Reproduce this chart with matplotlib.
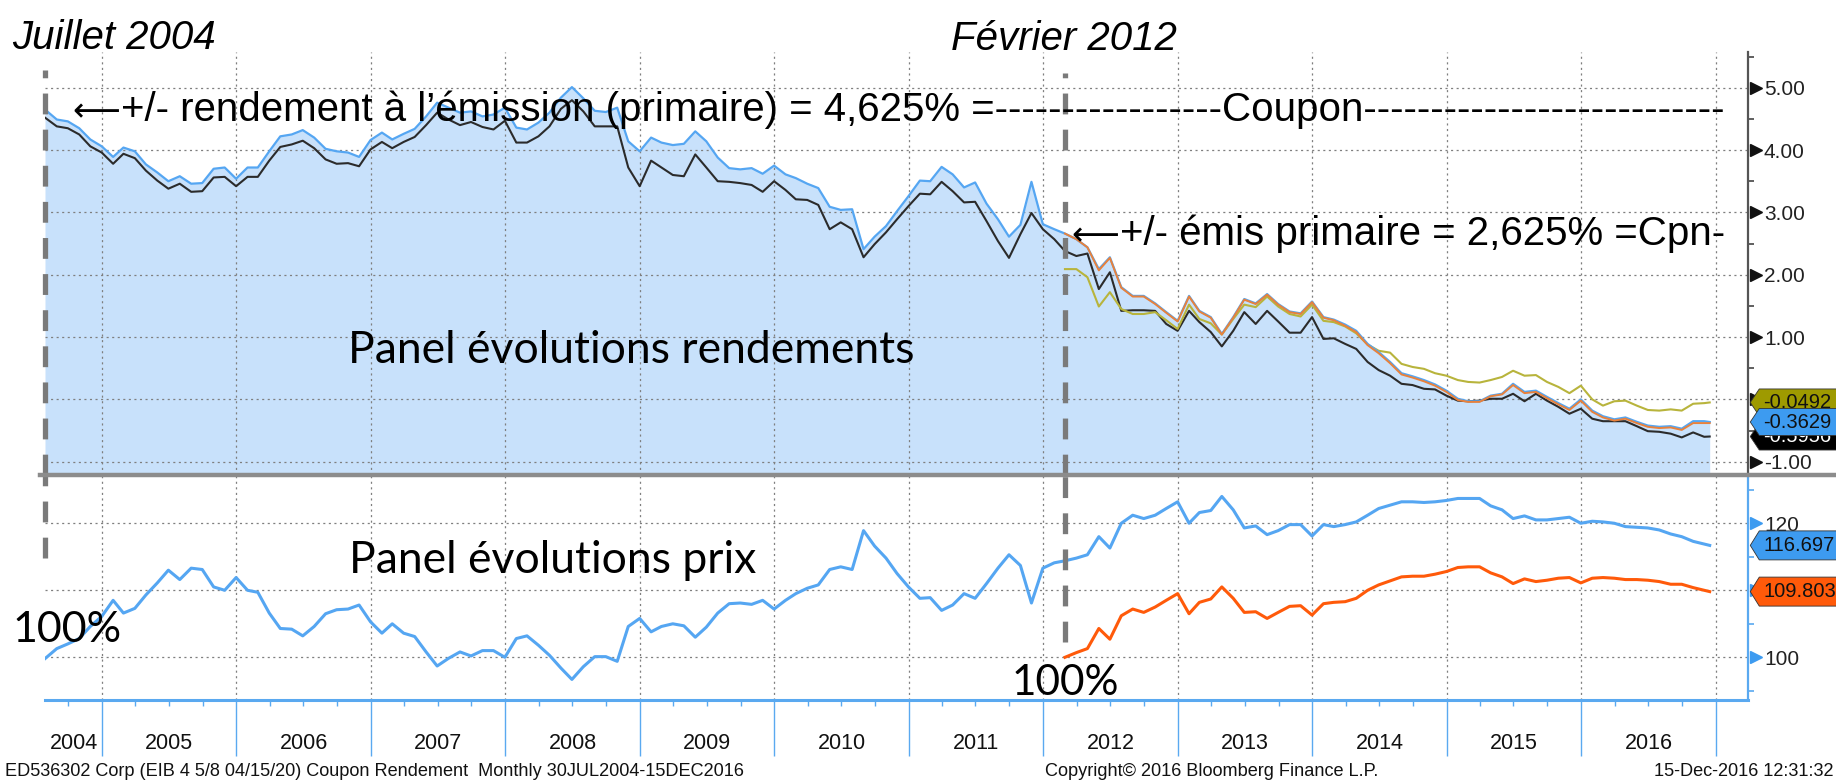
import numpy as np
import pandas as pd
import matplotlib
matplotlib.use("Agg")
import matplotlib.pyplot as plt
import matplotlib.dates as mdates
import matplotlib.transforms as mtrans
from matplotlib.path import Path
from matplotlib.lines import Line2D

# ---- data ----
dates = pd.date_range("2004-07-31", "2016-11-30", freq="ME").tolist()
dates[0] = pd.Timestamp("2004-07-30")
dates.append(pd.Timestamp("2016-12-15"))

# EIB 4 5/8 04/15/20 yield (blue, filled)
yld_eib = [4.65, 4.49, 4.46, 4.35, 4.17, 4.06,
           3.89, 4.04, 3.98, 3.77, 3.64, 3.50, 3.58, 3.46, 3.47, 3.70, 3.72, 3.54,
           3.72, 3.72, 3.98, 4.22, 4.25, 4.32, 4.20, 4.02, 3.98, 3.96, 3.89, 4.16,
           4.28, 4.17, 4.26, 4.34, 4.54, 4.76, 4.68, 4.60, 4.62, 4.54, 4.57, 4.68,
           4.36, 4.33, 4.44, 4.60, 4.84, 5.01, 4.83, 4.63, 4.61, 4.68, 4.14, 3.98,
           4.20, 4.12, 4.08, 4.10, 4.30, 4.14, 3.88, 3.71, 3.69, 3.71, 3.62, 3.75,
           3.61, 3.55, 3.46, 3.39, 3.09, 3.04, 3.05, 2.41, 2.61, 2.78, 3.02, 3.26,
           3.51, 3.50, 3.73, 3.61, 3.40, 3.48, 3.14, 2.89, 2.61, 2.80, 3.49, 2.81,
           2.73, 2.66, 2.57, 2.44, 2.09, 2.28, 1.80, 1.66, 1.66, 1.54, 1.40, 1.26,
           1.66, 1.42, 1.32, 1.05, 1.32, 1.61, 1.54, 1.69, 1.53, 1.41, 1.38, 1.57,
           1.32, 1.28, 1.20, 1.10, 0.89, 0.76, 0.60, 0.42, 0.37, 0.31, 0.24, 0.14,
           0.01, -0.03, -0.03, 0.06, 0.09, 0.25, 0.12, 0.14, 0.04, -0.06, -0.15, 0.00,
           -0.18, -0.27, -0.32, -0.29, -0.36, -0.42, -0.44, -0.43, -0.47, -0.35, -0.35, -0.3629]
# benchmark yield (black)
yld_bench = [4.52, 4.38, 4.35, 4.25, 4.06, 3.96,
             3.78, 3.94, 3.87, 3.67, 3.51, 3.38, 3.46, 3.33, 3.34, 3.56, 3.57, 3.42,
             3.57, 3.57, 3.83, 4.05, 4.09, 4.15, 4.03, 3.85, 3.78, 3.79, 3.74, 4.01,
             4.13, 4.03, 4.13, 4.21, 4.40, 4.60, 4.49, 4.40, 4.45, 4.37, 4.33, 4.47,
             4.12, 4.12, 4.22, 4.38, 4.66, 4.80, 4.62, 4.38, 4.38, 4.38, 3.72, 3.42,
             3.83, 3.72, 3.60, 3.58, 3.93, 3.72, 3.50, 3.49, 3.47, 3.44, 3.33, 3.50,
             3.36, 3.21, 3.20, 3.12, 2.73, 2.84, 2.73, 2.28, 2.49, 2.68, 2.89, 3.10,
             3.30, 3.29, 3.49, 3.34, 3.16, 3.17, 2.86, 2.54, 2.27, 2.65, 2.99, 2.73,
             2.57, 2.38, 2.30, 2.34, 1.77, 2.04, 1.42, 1.43, 1.43, 1.42, 1.21, 1.10,
             1.42, 1.24, 1.08, 0.85, 1.10, 1.40, 1.21, 1.42, 1.25, 1.07, 1.07, 1.32,
             0.97, 0.98, 0.89, 0.81, 0.60, 0.47, 0.38, 0.25, 0.23, 0.17, 0.16, 0.06,
             -0.02, -0.03, -0.02, 0.01, 0.01, 0.09, -0.03, 0.09, -0.02, -0.12, -0.23, -0.15,
             -0.31, -0.35, -0.35, -0.35, -0.43, -0.51, -0.52, -0.55, -0.61, -0.53, -0.60, -0.5956]
# 2nd issue (2,625%), from Feb 2012
yld_new = [2.66, 2.57, 2.44, 2.07, 2.27, 1.79, 1.65, 1.65, 1.53, 1.39, 1.25,
           1.65, 1.41, 1.31, 1.04, 1.31, 1.60, 1.53, 1.68, 1.52, 1.40, 1.37, 1.56,
           1.31, 1.27, 1.18, 1.08, 0.87, 0.74, 0.58, 0.40, 0.35, 0.29, 0.22, 0.12,
           -0.01, -0.04, -0.04, 0.05, 0.08, 0.23, 0.10, 0.12, 0.02, -0.08, -0.17, -0.02,
           -0.20, -0.29, -0.34, -0.31, -0.38, -0.44, -0.46, -0.45, -0.49, -0.38, -0.38, -0.38]
# other reference yield (olive), from Feb 2012
yld_ref = [2.09, 2.09, 1.96, 1.49, 1.72, 1.45, 1.37, 1.37, 1.40, 1.27, 1.13,
           1.52, 1.29, 1.22, 1.04, 1.29, 1.52, 1.48, 1.65, 1.49, 1.37, 1.33, 1.52,
           1.26, 1.24, 1.17, 1.06, 0.88, 0.78, 0.75, 0.57, 0.52, 0.49, 0.42, 0.38,
           0.31, 0.28, 0.27, 0.31, 0.36, 0.46, 0.38, 0.39, 0.28, 0.20, 0.10, 0.22,
           0.00, -0.10, -0.03, -0.02, -0.10, -0.17, -0.18, -0.16, -0.18, -0.07, -0.06, -0.0492]

# prices
px_eib = [99.8, 101.3, 102.0, 102.8, 104.6, 106.1,
          108.5, 106.6, 107.3, 109.3, 111.1, 113.0, 111.6, 113.3, 113.1, 110.5, 110.0, 111.9,
          110.0, 109.7, 106.6, 104.3, 104.2, 103.2, 104.6, 106.5, 107.1, 107.2, 107.8, 105.3,
          103.6, 105.0, 103.6, 103.1, 100.8, 98.7, 99.85, 100.8, 100.2, 101.0, 101.0, 100.0,
          102.8, 103.2, 101.8, 100.3, 98.4, 96.7, 98.6, 100.1, 100.1, 99.4, 104.6, 105.8,
          103.8, 104.6, 105.0, 104.7, 103.0, 104.5, 106.6, 108.0, 108.1, 107.9, 108.5, 107.2,
          108.5, 109.5, 110.3, 110.8, 113.1, 113.5, 113.1, 118.9, 116.6, 114.8, 112.5, 110.5,
          108.8, 108.9, 107.0, 107.8, 109.5, 108.8, 111.0, 113.3, 115.3, 113.7, 108.1, 113.3,
          114.1, 114.4, 114.8, 115.3, 118.0, 116.3, 120.0, 121.2, 120.7, 121.2, 122.2, 123.2,
          120.0, 121.6, 121.9, 124.0, 122.0, 119.3, 119.6, 118.3, 118.9, 119.8, 119.8, 118.1,
          119.8, 119.5, 119.8, 120.2, 121.2, 122.2, 122.7, 123.2, 123.2, 123.1, 123.2, 123.4,
          123.7, 123.7, 123.7, 122.6, 122.0, 120.7, 121.1, 120.5, 120.5, 120.7, 120.9, 120.0,
          120.3, 120.2, 120.0, 119.5, 119.4, 119.3, 119.0, 118.4, 118.0, 117.3, 116.9, 116.697]
px_new = [100.0, 100.7, 101.3, 104.3, 102.7, 106.2, 107.2, 106.7, 107.5, 108.5, 109.5,
          106.5, 108.2, 108.7, 110.5, 108.8, 106.7, 106.8, 105.8, 106.7, 107.6, 107.7, 106.3,
          108.0, 108.2, 108.3, 108.8, 110.0, 110.8, 111.4, 112.0, 112.1, 112.1, 112.4, 112.8,
          113.4, 113.5, 113.5, 112.6, 112.0, 111.0, 111.7, 111.3, 111.5, 111.8, 111.9, 111.1,
          111.8, 111.9, 111.8, 111.6, 111.6, 111.5, 111.3, 110.9, 110.9, 110.4, 110.0, 109.803]

years = list(range(2004, 2017))
yield_ticks = [-1, 0, 1, 2, 3, 4, 5]
yield_labels = ["-1.00", "", "1.00", "2.00", "3.00", "4.00", "5.00"]   # 0.00 sits under the flags
price_ticks = [100, 110, 120]
price_labels = ["100", "", "120"]                                      # 110 sits under the flag

new_start = pd.Timestamp("2012-02-29")
dates_new = [d for d in dates if d >= new_start]

# ---- style ----
SANS = "Liberation Sans"
CAL = "Lato"
plt.rcParams["lines.scale_dashes"] = False

BLUE_FILL = "#c8e1fb"
BLUE = "#55a6f2"
LBLUE = "#5aa9f0"
BLACK = "#2b2b2b"
ORANGE = "#e8813c"
OLIVE = "#b8b43c"
GRID = "#7f7f7f"
DASHGRAY = "#7a7a7a"

W, H = 1836, 781
fig = plt.figure(figsize=(W / 100, H / 100), dpi=100)
fig.patch.set_facecolor("white")


def fx(px):
    return px / W


def fy(py):
    return 1 - py / H


ax1 = fig.add_axes([fx(45), fy(475), fx(1748) - fx(45), fy(52) - fy(475)])
ax2 = fig.add_axes([fx(45), fy(700), fx(1748) - fx(45), fy(475) - fy(700)])

xmin, xmax = pd.Timestamp("2004-07-30"), pd.Timestamp("2017-03-29")
for ax in (ax1, ax2):
    ax.set_xlim(xmin, xmax)
    ax.set_facecolor("none")
    ax.xaxis.set_major_locator(mdates.YearLocator())
    ax.xaxis.set_minor_locator(mdates.MonthLocator(bymonth=[4, 7, 10]))
    for s in ("left", "top"):
        ax.spines[s].set_visible(False)
    ax.grid(True, which="major", color=GRID, linestyle=(0, (1.5, 2.5)), linewidth=0.9)
    ax.yaxis.set_ticks_position("right")

# ---- top panel: yields ----
ax1.set_ylim(-1.213, 5.573)
ax1.fill_between(dates, yld_eib, -5, color=BLUE_FILL, linewidth=0, zorder=1)
ax1.plot(dates, yld_bench, color=BLACK, lw=1.5, zorder=3)
ax1.plot(dates_new, yld_ref, color=OLIVE, lw=1.5, zorder=3)
ax1.plot(dates, yld_eib, color=BLUE, lw=1.6, zorder=3)
ax1.plot(dates_new, yld_new, color=ORANGE, lw=1.4, zorder=4)

ax1.spines["bottom"].set_visible(False)
ax1.spines["right"].set_color("#555555")
ax1.spines["right"].set_linewidth(1.6)
ax1.set_yticks(yield_ticks)
ax1.set_yticklabels(yield_labels, fontfamily=SANS, fontsize=15, color="#222222")
ax1.set_yticks(np.arange(-0.5, 5.6, 1.0), minor=True)
ax1.tick_params(axis="y", which="major", length=0, pad=11.5)
ax1.tick_params(axis="y", which="minor", length=4.5, width=1.2, color="#444444", direction="out")
ax1.tick_params(axis="x", which="both", length=0, labelbottom=False)
tr1 = mtrans.blended_transform_factory(ax1.transAxes, ax1.transData)
ax1.plot([1.0045] * len(yield_ticks), yield_ticks, ls="none", marker=">", ms=8,
         color="#111111", transform=tr1, clip_on=False, zorder=5)

# ---- bottom panel: prices ----
ax2.set_ylim(93.63, 127.2)
ax2.plot(dates, px_eib, color=BLUE, lw=2.2, zorder=3)
ax2.plot(dates_new, px_new, color="#ff5a0a", lw=2.2, zorder=3)
ax2.spines["right"].set_color(LBLUE)
ax2.spines["right"].set_linewidth(1.6)
ax2.spines["bottom"].set_color(LBLUE)
ax2.spines["bottom"].set_linewidth(2.2)
ax2.set_yticks(price_ticks)
ax2.set_yticklabels(price_labels, fontfamily=SANS, fontsize=15, color="#222222")
ax2.set_yticks([95, 105, 115, 125], minor=True)
ax2.tick_params(axis="y", which="major", length=0, pad=11.5)
ax2.tick_params(axis="y", which="minor", length=4.5, width=1.2, color=LBLUE, direction="out")
ax2.tick_params(axis="x", which="major", length=40, width=1, color=LBLUE, direction="out", labelbottom=False)
ax2.tick_params(axis="x", which="minor", length=4, width=1, color=LBLUE, direction="out")
tr2 = mtrans.blended_transform_factory(ax2.transAxes, ax2.transData)
ax2.plot([1.0045] * len(price_ticks), price_ticks, ls="none", marker=">", ms=8,
         color="#3d9bf0", transform=tr2, clip_on=False, zorder=5)

# year labels under the axis
trx = mtrans.blended_transform_factory(ax2.transData, fig.transFigure)
for y in years:
    a = max(pd.Timestamp(y, 1, 1), xmin)
    b = pd.Timestamp(y + 1, 1, 1)
    mid = a + (b - a) / 2
    ax2.text(mid, fy(749), str(y), transform=trx, ha="center", va="baseline",
             fontfamily=SANS, fontsize=15.5, color="#111111")

# separator between the two panels
fig.add_artist(Line2D([fx(40), 1.0], [fy(475), fy(475)], color="#8c8c8c", lw=3.2))

# ---- dashed markers for the two issue dates ----
for ax, lo, hi in ((ax1, 0.0, (475 - 70) / 423), (ax2, (700 - 558) / 225, 1.0)):
    ax.axvline(dates[0], lo, hi, color=DASHGRAY, lw=3.8, dashes=(15, 11), clip_on=False, zorder=6)
for ax, lo, hi in ((ax1, 0.0, (475 - 73) / 423), (ax2, (700 - 642) / 225, 1.0)):
    ax.axvline(new_start, lo, hi, color=DASHGRAY, lw=3.8, dashes=(15, 11), clip_on=False, zorder=6)


# ---- last-value flags ----
def flag_style(hgt):
    def style(x0, y0, width, height, mutation_size):
        cy = y0 + height / 2
        left = x0 - 4
        tip = left - 9
        right = x0 + width + 60
        verts = [(tip, cy), (left, cy + hgt / 2), (right, cy + hgt / 2),
                 (right, cy - hgt / 2), (left, cy - hgt / 2), (tip, cy)]
        return Path(verts, closed=True)
    return style


def flag(ax, val, txt, fc, tc, hgt, fs, z):
    ax.annotate(txt, xy=(1.0, val), xycoords=("axes fraction", "data"),
                xytext=(11, 0), textcoords="offset points", ha="left", va="center",
                fontfamily=SANS, fontsize=fs, color=tc, annotation_clip=False, zorder=z,
                bbox=dict(boxstyle=flag_style(hgt), fc=fc, ec="#333333", lw=0.6))


flag(ax1, yld_bench[-1], "%.4f" % yld_bench[-1], "#000000", "white", 27, 14.5, 7)
flag(ax1, yld_ref[-1], "%.4f" % yld_ref[-1], "#9e9a00", "#111111", 27, 14.5, 8)
flag(ax1, yld_eib[-1], "%.4f" % yld_eib[-1], "#3d9bf0", "#111111", 27, 14.5, 9)
flag(ax2, px_eib[-1], "%.3f" % px_eib[-1], "#3d9bf0", "#111111", 29, 14.5, 8)
flag(ax2, px_new[-1], "%.3f" % px_new[-1], "#ff5a0a", "#111111", 29, 14.5, 8)

# ---- annotations ----
fig.text(fx(12), fy(49), "Juillet 2004", fontfamily=SANS, style="italic", fontsize=29)
fig.text(fx(951), fy(50), "Février 2012", fontfamily=SANS, style="italic", fontsize=29)
fig.text(fx(72), fy(121), "\u27f5", fontfamily=["DejaVu Sans"], fontsize=24)
fig.text(fx(121), fy(121),
         "+/- rendement à l\u2019émission (primaire) = 4,625% =-----------------Coupon---------------------------",
         fontfamily=SANS, fontsize=29)
fig.text(fx(1071), fy(245), "\u27f5", fontfamily=["DejaVu Sans"], fontsize=24)
fig.text(fx(1120), fy(245), "+/- émis primaire = 2,625% =Cpn-", fontfamily=SANS, fontsize=29)
fig.text(fx(348), fy(363), "Panel évolutions rendements", fontfamily=CAL, fontsize=32)
fig.text(fx(349), fy(573), "Panel évolutions prix", fontfamily=CAL, fontsize=32)
fig.text(fx(12), fy(642), "100%", fontfamily=CAL, fontsize=31)
fig.text(fx(1012), fy(695), "100%", fontfamily=CAL, fontsize=30.5)

# ---- footer ----
fig.text(fx(5), fy(776), "ED536302 Corp (EIB 4 5/8 04/15/20) Coupon Rendement  Monthly 30JUL2004-15DEC2016",
         fontfamily=SANS, fontsize=13.1, color="#111111")
fig.text(fx(1045), fy(776), "Copyright\u00a9 2016 Bloomberg Finance L.P.",
         fontfamily=SANS, fontsize=13.1, color="#111111")
fig.text(fx(1834), fy(776), "15-Dec-2016 12:31:32", ha="right",
         fontfamily=SANS, fontsize=13.1, color="#111111")

fig.savefig("out.png", dpi=100)
